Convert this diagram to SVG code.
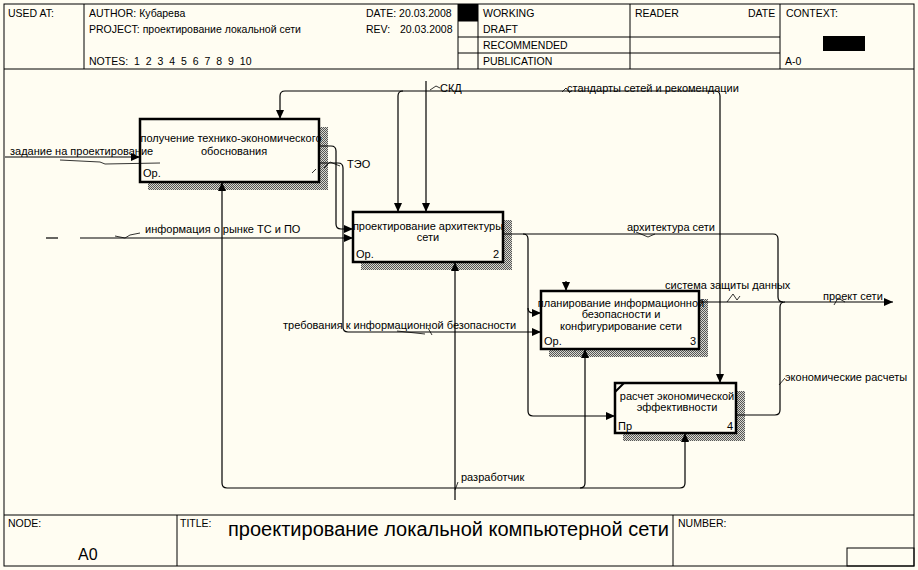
<svg xmlns="http://www.w3.org/2000/svg" width="918" height="570" viewBox="0 0 918 570">
<defs>
<style>
text{font-family:"Liberation Sans",Arial,sans-serif;fill:#000}
.hd{font-size:10.5px}
.lb{font-size:11px}
.bx{font-size:11px}
.fr{fill:none;stroke:#000;stroke-width:1}
.box{fill:#fffdf2;stroke:#000;stroke-width:2.5}
.sh{fill:url(#hatch)}
.cn{fill:none;stroke:#000;stroke-width:1.2}
.sq{fill:none;stroke:#000;stroke-width:0.8}
</style>
<pattern id="hatch" width="2" height="2" patternUnits="userSpaceOnUse">
<rect width="2" height="2" fill="#d8d8d0"/>
<rect width="1" height="1" fill="#555"/>
<rect x="1" y="1" width="1" height="1" fill="#555"/>
</pattern>
<marker id="ah" markerUnits="userSpaceOnUse" markerWidth="10" markerHeight="8" refX="9" refY="4" orient="auto">
<path d="M0,0 L9,4 L0,8 z" fill="#000"/>
</marker>
</defs>
<rect width="918" height="570" fill="#fffdf2"/>

<g id="frame">
<rect class="fr" x="4" y="4" width="910" height="562"/>
<line class="fr" x1="4" y1="69" x2="914" y2="69"/>
<line class="fr" x1="84" y1="4" x2="84" y2="69"/>
<line class="fr" x1="458" y1="4" x2="458" y2="69"/>
<line class="fr" x1="478" y1="4" x2="478" y2="69"/>
<line class="fr" x1="630" y1="4" x2="630" y2="69"/>
<line class="fr" x1="780" y1="4" x2="780" y2="69"/>
<rect x="458" y="4" width="20" height="17" fill="#000"/>
<line class="fr" x1="458" y1="21" x2="478" y2="21"/>
<line class="fr" x1="458" y1="37" x2="780" y2="37"/>
<line class="fr" x1="458" y1="53" x2="780" y2="53"/>
<rect x="823" y="36" width="42" height="15" fill="#000"/>
<text class="hd" x="8" y="17">USED AT:</text>
<text class="hd" x="89" y="17">AUTHOR: Кубарева</text>
<text class="hd" x="89" y="33">PROJECT: проектирование локальной сети</text>
<text class="hd" x="89" y="65" style="word-spacing:3px">NOTES: 1 2 3 4 5 6 7 8 9 10</text>
<text class="hd" x="366" y="17">DATE: 20.03.2008</text>
<text class="hd" x="366" y="33">REV:</text>
<text class="hd" x="400" y="33">20.03.2008</text>
<text class="hd" x="483" y="17">WORKING</text>
<text class="hd" x="483" y="33">DRAFT</text>
<text class="hd" x="483" y="49">RECOMMENDED</text>
<text class="hd" x="483" y="65">PUBLICATION</text>
<text class="hd" x="635" y="17">READER</text>
<text class="hd" x="748" y="17">DATE</text>
<text class="hd" x="786" y="17">CONTEXT:</text>
<text class="hd" x="785" y="65">A-0</text>
<line class="fr" x1="4" y1="515" x2="914" y2="515"/>
<line class="fr" x1="177" y1="515" x2="177" y2="566"/>
<line class="fr" x1="673" y1="515" x2="673" y2="566"/>
<rect class="fr" x="847" y="548" width="67" height="18"/>
<text class="hd" x="8" y="527">NODE:</text>
<text x="78" y="560" style="font-size:16px">A0</text>
<text class="hd" x="180" y="527">TITLE:</text>
<text x="228" y="536" style="font-size:20px">проектирование локальной компьютерной сети</text>
<text class="hd" x="678" y="527">NUMBER:</text>
</g>

<g id="box1">
<rect class="sh" x="148" y="127" width="180" height="63"/>
<rect class="box" x="140" y="119" width="179" height="63"/>
<text class="bx" x="231" y="142" text-anchor="middle">получение технико-экономического</text>
<text class="bx" x="234" y="155" text-anchor="middle">обоснования</text>
<text class="bx" x="143" y="177">Ор.</text>
<line class="sq" x1="312" y1="173" x2="316" y2="169"/>
</g>

<g id="box2">
<rect class="sh" x="361" y="220" width="151" height="50"/>
<rect class="box" x="353" y="212" width="150" height="50"/>
<text class="bx" x="428" y="230" text-anchor="middle">проектирование архитектуры</text>
<text class="bx" x="428" y="241" text-anchor="middle">сети</text>
<text class="bx" x="356" y="258">Ор.</text>
<text class="bx" x="493" y="258">2</text>
</g>

<g id="box3">
<rect class="sh" x="549" y="299" width="159" height="58"/>
<rect class="box" x="541" y="291" width="158" height="58"/>
<text class="bx" x="621" y="307" text-anchor="middle">планирование информационной</text>
<text class="bx" x="621" y="318" text-anchor="middle">безопасности и</text>
<text class="bx" x="621" y="330" text-anchor="middle">конфигурирование сети</text>
<text class="bx" x="544" y="345">Ор.</text>
<text class="bx" x="690" y="345">3</text>
</g>

<g id="box4">
<rect class="sh" x="623" y="391" width="122" height="50"/>
<rect class="box" x="615" y="383" width="121" height="50"/>
<line x1="615" y1="392" x2="624" y2="383" stroke="#000" stroke-width="2"/>
<text class="bx" x="677" y="400" text-anchor="middle">расчет экономической</text>
<text class="bx" x="677" y="411" text-anchor="middle">эффективности</text>
<text class="bx" x="618" y="430">Пр</text>
<text class="bx" x="727" y="430">4</text>
</g>

<g id="connectors">
<path class="cn" d="M715,91 H285 Q280,91 280,96 V119" marker-end="url(#ah)"/>
<path class="cn" d="M403,91 Q398,91 398,96 V212" marker-end="url(#ah)"/>
<path class="cn" d="M715,91 Q720,91 720,96 V383" marker-end="url(#ah)"/>
<path class="cn" d="M426,81 V212" marker-end="url(#ah)"/>
<path class="cn" d="M5,157 H140" marker-end="url(#ah)"/>
<path class="cn" d="M46,238 H58"/>
<path class="cn" d="M80,238 H353" marker-end="url(#ah)"/>
<path class="cn" d="M319,146 H331 Q336,146 336,151 V224 Q336,229 341,229 H353" marker-end="url(#ah)"/>
<path class="cn" d="M319,163 H338 Q343,163 343,168 V327 Q343,332 348,332 H541" marker-end="url(#ah)"/>
<path class="cn" d="M503,234 H773 Q778,234 778,239 V297 Q778,302 783,302"/>
<path class="cn" d="M523,234 Q528,234 528,239 V411 Q528,416 533,416 H615" marker-end="url(#ah)"/>
<path class="cn" d="M528,308 Q528,313 533,313 H541" marker-end="url(#ah)"/>
<path class="cn" d="M699,302 H893" marker-end="url(#ah)"/>
<path class="cn" d="M736,415 H775 Q780,415 780,410 V307 Q780,302 785,302"/>
<path class="cn" d="M566,281 V291" marker-end="url(#ah)"/>
<path class="cn" d="M455,500 V262" marker-end="url(#ah)"/>
<path class="cn" d="M227,488 H680 Q685,488 685,483 V433" marker-end="url(#ah)"/>
<path class="cn" d="M227,488 Q222,488 222,483 V182" marker-end="url(#ah)"/>
<path class="cn" d="M580,488 Q585,488 585,483 V349" marker-end="url(#ah)"/>
<path class="sq" d="M60,160 L100,162 L105,164 L160,163"/>
<path class="sq" d="M115,236 L125,238 L130,235 L140,233"/>
<path class="sq" d="M324,168 L330,162 L340,166"/>
<path class="sq" d="M430,90 L436,86 L440,88"/>
<path class="sq" d="M562,92 L566,88 L570,93"/>
<path class="sq" d="M636,232 L648,237 L655,234"/>
<path class="sq" d="M727,302 L733,294 L737,300 L740,296"/>
<path class="sq" d="M834,305 L838,298 L845,302"/>
<path class="sq" d="M397,331 L425,334"/>
<path class="sq" d="M428,328 L432,335"/>
<path class="sq" d="M779,385 L785,378"/>
<path class="sq" d="M455,490 L458,482"/>
<text class="lb" x="10" y="155">задание на проектирование</text>
<text class="lb" x="145" y="233">информация о рынке ТС и ПО</text>
<text class="lb" x="347" y="168">ТЭО</text>
<text class="lb" x="440" y="92">СКД</text>
<text class="lb" x="567" y="92">стандарты сетей и рекомендации</text>
<text class="lb" x="627" y="231">архитектура сети</text>
<text class="lb" x="665" y="289">система защиты данных</text>
<text class="lb" x="823" y="300">проект сети</text>
<text class="lb" x="283" y="329">требования к информационной безопасности</text>
<text class="lb" x="785" y="381">экономические расчеты</text>
<text class="lb" x="461" y="481">разработчик</text>
</g>
</svg>
